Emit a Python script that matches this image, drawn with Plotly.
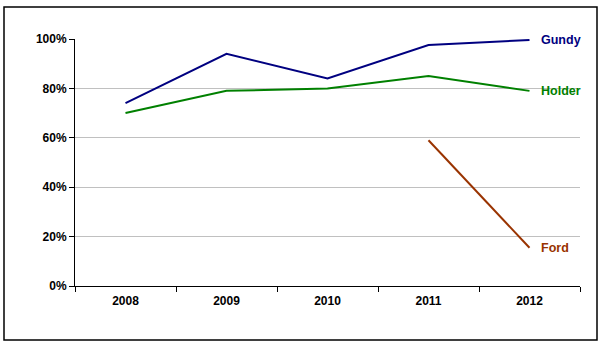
import plotly.graph_objects as go

years = ["2008", "2009", "2010", "2011", "2012"]
gundy = [0.74, 0.94, 0.84, 0.976, 0.996]
holder = [0.70, 0.79, 0.80, 0.85, 0.79]
ford_years = ["2011", "2012"]
ford = [0.59, 0.155]
y_ticks = [0, 0.2, 0.4, 0.6, 0.8, 1.0]

c_gundy = "#000080"
c_holder = "#008000"
c_ford = "#993300"
FONT = "Arial, Liberation Sans, sans-serif"

fig = go.Figure()
fig.add_trace(go.Scatter(x=years, y=gundy, mode="lines", line=dict(color=c_gundy, width=2), name="Gundy"))
fig.add_trace(go.Scatter(x=years, y=holder, mode="lines", line=dict(color=c_holder, width=2), name="Holder"))
fig.add_trace(go.Scatter(x=ford_years, y=ford, mode="lines", line=dict(color=c_ford, width=2), name="Ford"))

last_idx = len(years) - 1
for name, ys, col in [("Gundy", gundy, c_gundy), ("Holder", holder, c_holder), ("Ford", ford, c_ford)]:
    fig.add_annotation(x=last_idx, y=ys[-1], xref="x", yref="y", text=name, showarrow=False,
                       xanchor="left", yanchor="middle", xshift=9,
                       font=dict(family=FONT, size=12.5, color=col, weight="bold"))

L, R, T, B = 75, 31, 39, 67
W, H = 611, 353
pw, ph = W - L - R, H - T - B
bx0, bx1, by0, by1 = 4, 597, 7, 340
fig.add_shape(type="rect", xref="paper", yref="paper",
              x0=(bx0 - L) / pw, x1=(bx1 - L) / pw,
              y0=(H - B - by1) / ph, y1=(H - B - by0) / ph,
              line=dict(color="black", width=1.5))

fig.update_layout(
    width=W, height=H, margin=dict(l=L, r=R, t=T, b=B),
    paper_bgcolor="white", plot_bgcolor="white", showlegend=False,
    font=dict(family=FONT, size=12, color="black"),
)
fig.update_xaxes(type="category", categoryorder="array", categoryarray=years,
                 range=[-0.5, 4.5], showline=True, linecolor="black", linewidth=1,
                 ticks="outside", tickson="boundaries", ticklen=5, tickcolor="black",
                 showgrid=False, ticklabelstandoff=4,
                 tickfont=dict(size=12, family=FONT, weight="bold"))
fig.update_yaxes(range=[0, 1.0], tickvals=y_ticks, tickformat=".0%",
                 showline=True, linecolor="black", linewidth=1,
                 ticks="outside", ticklen=5, tickcolor="black",
                 showgrid=True, gridcolor="#C0C0C0", gridwidth=1, zeroline=False,
                 ticklabelstandoff=0,
                 tickfont=dict(size=12, family=FONT, weight="bold"))

fig.write_html("out.html")
